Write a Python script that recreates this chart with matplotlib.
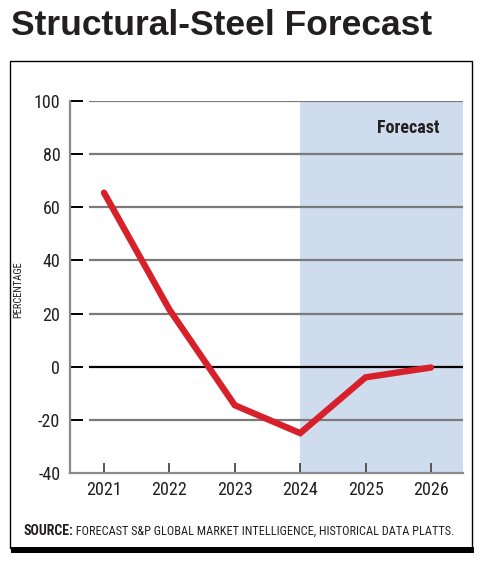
import matplotlib
matplotlib.use("Agg")
import matplotlib.pyplot as plt
from matplotlib import font_manager
from matplotlib.patches import Rectangle

years = [2021, 2022, 2023, 2024, 2025, 2026]
values = [65.5, 21.5, -14.5, -25.0, -4.0, -0.3]
yticks = [-40, -20, 0, 20, 40, 60, 80, 100]
forecast_start = 2024
title = "Structural-Steel Forecast"
ylabel = "PERCENTAGE"
source_bold = "SOURCE:"
source_rest = " FORECAST S&P GLOBAL MARKET INTELLIGENCE, HISTORICAL DATA PLATTS."

names = {f.name for f in font_manager.fontManager.ttflist}
cond = None
for cand in ["Liberation Sans Narrow", "Roboto Condensed", "DejaVu Sans Condensed"]:
    if cand in names:
        cond = cand
        break
cond_kw = dict(family=cond) if cond else dict(family="DejaVu Sans", stretch="condensed")

W, H = 487, 571
fig = plt.figure(figsize=(W/100, H/100), dpi=100)

def fx(px): return px / W
def fy(py): return 1 - py / H

# frame
fig.patches.append(Rectangle((fx(10), fy(548)), (472-10)/W, (548-61)/H, transform=fig.transFigure,
                             fill=False, edgecolor="black", linewidth=1.0))
fig.patches.append(Rectangle((fx(11), fy(553)), (474-11)/W, 6/H, transform=fig.transFigure,
                             facecolor="black", edgecolor="none"))

fig.text(fx(11), fy(35), title, fontsize=25.5, fontweight="bold", family="Liberation Sans",
         color="#231f20", ha="left", va="baseline")

ax = fig.add_axes([fx(70), fy(473), fx(463-70), (473-101)/H])
xmin, xmax = 2020.48, 2026.49
ax.set_xlim(xmin, xmax)
ax.set_ylim(-40, 100)

ax.axvspan(forecast_start, xmax, ymin=0, ymax=1, color="#cfdcee", zorder=0, lw=0)

gstart = xmin + (89-70)/65.4
for t in yticks:
    if t == -40:
        continue
    ax.hlines(t, gstart, xmax, colors="black" if t == 0 else "#7a7a7a",
              linewidth=1.6, zorder=1)

ax.plot(years, values, color="#d7202a", linewidth=4.6, solid_capstyle="round",
        solid_joinstyle="miter", zorder=3)

ax.text(2025.65, 90, "Forecast", fontsize=13, fontweight="bold", color="#231f20",
        ha="center", va="center", **cond_kw)

for s in ["top", "right"]:
    ax.spines[s].set_visible(False)
for s in ["left", "bottom"]:
    ax.spines[s].set_color("#8a8a8a")
    ax.spines[s].set_linewidth(1.6)
ax.set_facecolor("none")

ax.set_yticks(yticks)
ax.set_yticklabels([str(t) for t in yticks], fontsize=13, color="#231f20", **cond_kw)
ax.tick_params(axis="y", direction="in", length=9.5, width=1.4, color="black", pad=7)
ax.set_xticks(years)
ax.set_xticklabels([str(y) for y in years], fontsize=13, color="#231f20", **cond_kw)
ax.tick_params(axis="x", direction="in", length=7.5, width=1.4, color="#555555", pad=6)

fig.text(fx(18), fy(290), ylabel, rotation=90, fontsize=7.6, color="#231f20",
         ha="center", va="center", **cond_kw)

t1 = fig.text(fx(23), fy(535), source_bold, fontsize=10, fontweight="bold", color="#231f20",
              ha="left", va="baseline", **cond_kw)
fig.canvas.draw()
bb = t1.get_window_extent()
fig.text(bb.x1 / W, fy(535), source_rest, fontsize=8.85, color="#231f20",
         ha="left", va="baseline", **cond_kw)

fig.savefig("out.png", dpi=100, facecolor="white")
